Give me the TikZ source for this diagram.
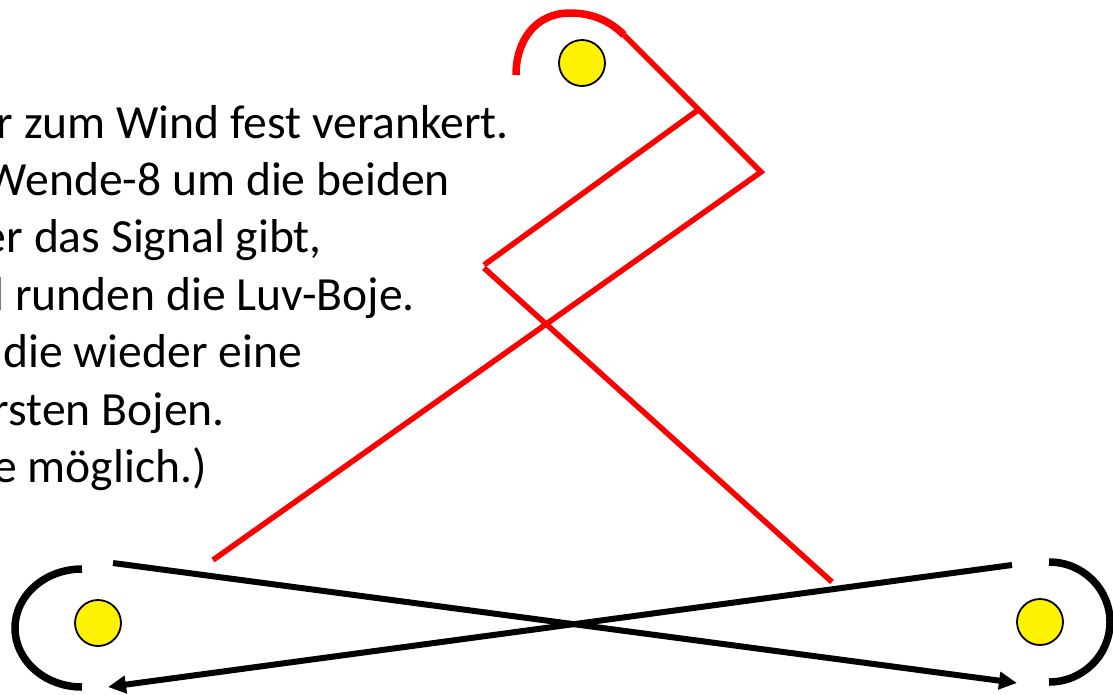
\documentclass[tikz,border=0pt]{standalone}
\usepackage{fontspec}
\setmainfont{Carlito}
\usetikzlibrary{arrows.meta}
\begin{document}
\begin{tikzpicture}[x=1pt,y=-1pt,
 buoy/.style={circle,draw=black,fill=yellow,line width=1.8pt,minimum size=46pt,inner sep=0pt},
 redline/.style={draw=red,line width=5.5pt},
 redarc/.style={draw=red,line width=7.5pt},
 blackline/.style={draw=black,line width=6pt},
 blackarc/.style={draw=black,line width=7.5pt},
 arr/.style={-{Triangle[length=18pt,width=17pt]}},
 txt/.style={anchor=base east,inner sep=0pt,font=\fontsize{47.6}{57}\selectfont}]
\useasboundingbox (0,0) rectangle (1113,694);
\clip (0,0) rectangle (1113,694);
% text
\node[txt] (t1) at (509,138) {r zum Wind fest verankert.};
\node[txt] (t2) at (450,195) {Wende-8 um die beiden};
\node[txt] (t3) at (322,252) {er das Signal gibt,};
\node[txt] (t4) at (415,310) {l runden die Luv-Boje.};
\node[txt] (t5) at (302,367) {die wieder eine};
\node[txt] (t6) at (225,425) {rsten Bojen.};
\node[txt] (t7) at (207,482) {e möglich.)};
% buoys
\node[buoy] (btop) at (582,63) {};
\node[buoy] (bleft) at (98,623) {};
\node[buoy] (bright) at (1040,622) {};
% red course
\coordinate (a0) at (516,75);
\coordinate (atop) at (570,13);
\coordinate (a1) at (624,35);
\coordinate (c1) at (761,172);
\coordinate (r1) at (213,560);
\coordinate (p1) at (698,110);
\coordinate (p2) at (484,265);
\coordinate (p3) at (484,268);
\coordinate (r2) at (832,582);
\draw[redarc] (a0) .. controls (516,40) and (536,13) .. (atop) .. controls (595,13) and (612,23) .. (a1);
\draw[redline] (a1) -- (c1) -- (r1);
\draw[redline] (p1) -- (p2);
\draw[redline] (p3) -- (r2);
% black course
\coordinate (l0) at (82,569);
\coordinate (rr0) at (1049,562);
\coordinate (s1) at (113,563);
\coordinate (e1) at (1017,683);
\coordinate (s2) at (1012,565);
\coordinate (e2) at (108,687);
\draw[blackarc] (l0) arc[start angle=-90,end angle=-270,x radius=67,y radius=59];
\draw[blackarc] (rr0) arc[start angle=-90,end angle=90,x radius=61,y radius=60];
\draw[blackline,arr] (s1) -- (e1);
\draw[blackline,arr] (s2) -- (e2);
\end{tikzpicture}
\end{document}
